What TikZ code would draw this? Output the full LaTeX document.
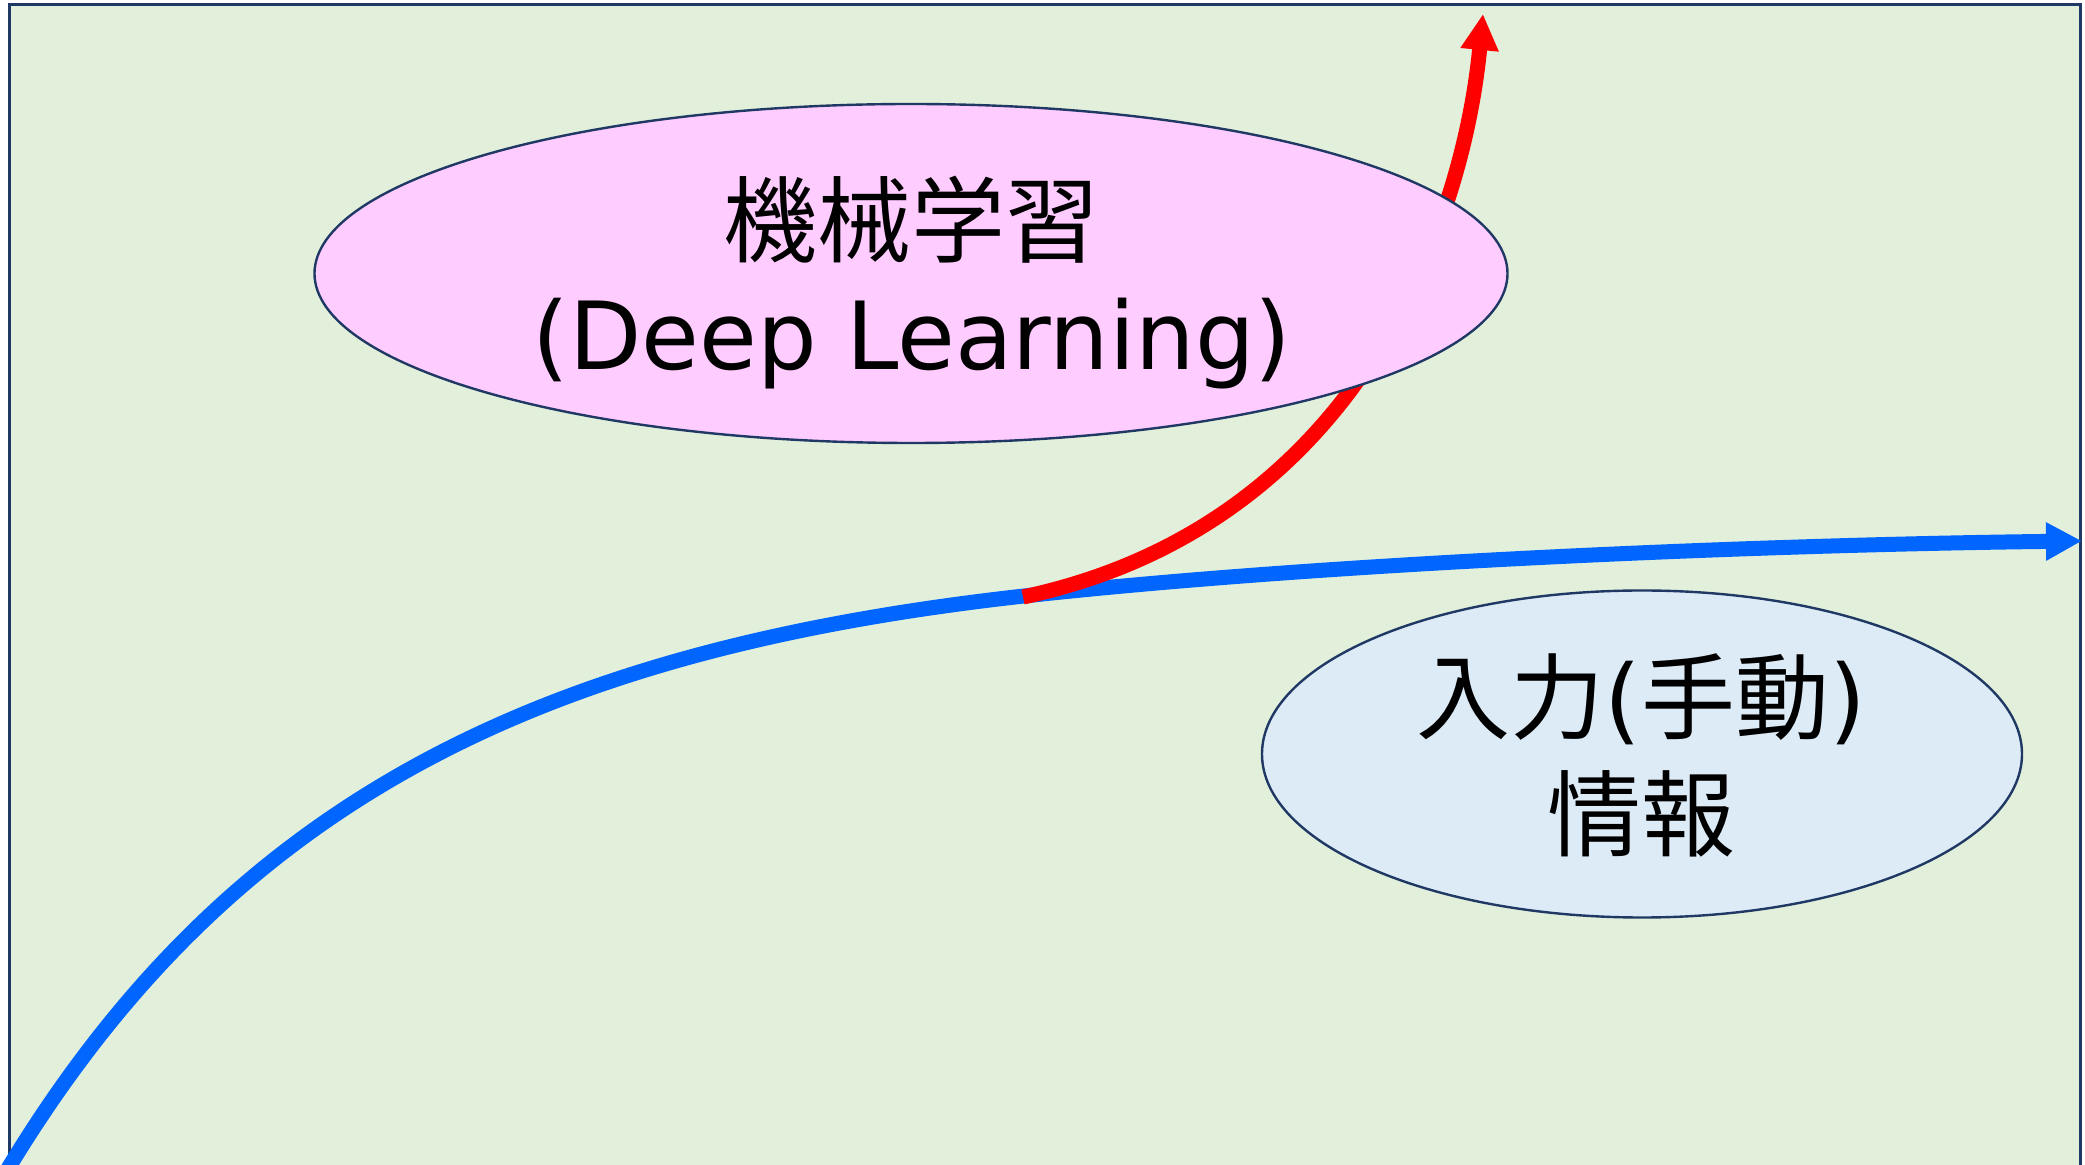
\documentclass[tikz,border=0pt]{standalone}
\usepackage{fontspec}
\setmainfont{DejaVu Sans}
\newfontfamily\jp{Noto Sans CJK JP}
\usetikzlibrary{arrows.meta,shapes.geometric}
\definecolor{bggreen}{HTML}{E2EFDA}
\definecolor{frame}{HTML}{1F3864}
\definecolor{pinkfill}{HTML}{FFCCFF}
\definecolor{bluefill}{HTML}{DDEBF7}
\definecolor{curveblue}{HTML}{0066FF}
\definecolor{curvered}{HTML}{FF0000}
\begin{document}
\begin{tikzpicture}[x=0.5pt,y=-0.5pt,
  oval/.style={ellipse,draw=frame,line width=1.2pt,inner sep=0pt},
  bigtext/.style={anchor=base,inner sep=0pt,font=\fontsize{47pt}{56pt}\selectfont},
  growth/.style={line width=7.5pt,-{Triangle[length=18pt 0,width=18pt 0]}}]
\useasboundingbox (0,0) rectangle (2085,1165);
\clip (0,0) rectangle (2085,1165);
\fill[white] (0,0) rectangle (2085,1165);
\draw[fill=bggreen,draw=frame,line width=1.5pt] (9.5,4.5) rectangle (2080.5,1200);
% blue curve
\coordinate (bstart) at (6,1172);
\coordinate (bmid) at (1024,596);
\coordinate (bend) at (2082,541);
\draw[growth,curveblue] (bstart) .. controls (230,800) and (540,650) .. (bmid)
  .. controls (1324,563) and (1750,545) .. (bend);
% red curve
\coordinate (rstart) at (1023,597);
\coordinate (rend) at (1483,14);
\draw[growth,curvered] (rstart) .. controls (1365,524) and (1464,213) .. (rend);
% ellipses
\node[oval,fill=pinkfill,minimum width=596.5pt,minimum height=169.5pt] (ml) at (911,273.5) {};
\node[oval,fill=bluefill,minimum width=380pt,minimum height=163.5pt] (inp) at (1642,754) {};
% texts
\node[bigtext] (ml1) at (911,256) {\jp 機械学習};
\node[bigtext] (ml2) at (912,370) {(Deep Learning)};
\node[bigtext] (in1) at (1641,733) {{\jp 入力}({\jp 手動})};
\node[bigtext] (in2) at (1641,850) {\jp 情報};
\end{tikzpicture}
\end{document}
